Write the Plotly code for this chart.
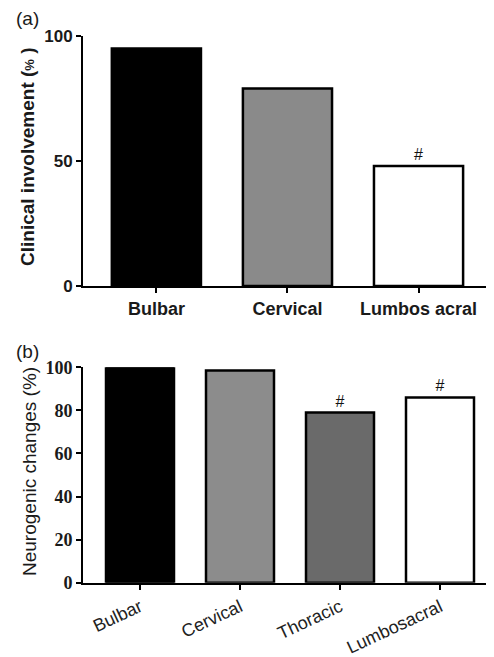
import plotly.graph_objects as go

# Panel (a) data
cats_a = ["Bulbar", "Cervical", "Lumbos acral"]
vals_a = [95, 79, 48]
marks_a = ["", "", "#"]
colors_a = ["#000000", "#8a8a8a", "#ffffff"]
yticks_a = [0, 50, 100]

# Panel (b) data
cats_b = ["Bulbar", "Cervical", "Thoracic", "Lumbosacral"]
vals_b = [100, 98.5, 79, 86]
marks_b = ["", "", "#", "#"]
colors_b = ["#000000", "#8c8c8c", "#6a6a6a", "#ffffff"]
yticks_b = [0, 20, 40, 60, 80, 100]

# the page body has an 8px margin, so the figure starts at (8, 8)
OFF = 8
W, H = 494 - OFF, 657 - OFF

fig = go.Figure()
fig.add_trace(go.Bar(
    x=cats_a, y=vals_a, text=marks_a, textposition="outside",
    textfont=dict(family="Liberation Sans", size=16, color="#111"),
    marker=dict(color=colors_a, line=dict(color="#000", width=2.5)),
    xaxis="x", yaxis="y", cliponaxis=False, showlegend=False,
))
fig.add_trace(go.Bar(
    x=cats_b, y=vals_b, text=marks_b, textposition="outside",
    textfont=dict(family="Liberation Sans", size=16, color="#111"),
    marker=dict(color=colors_b, line=dict(color="#000", width=2.5)),
    xaxis="x2", yaxis="y2", cliponaxis=False, showlegend=False,
))

def px_x(v):
    return (v - OFF) / W

def px_y(v):
    return (H - (v - OFF)) / H

axis_common = dict(showgrid=False, zeroline=False, showline=True, linecolor="#000",
                   linewidth=2, ticks="outside", tickcolor="#000", tickwidth=2, ticklen=5,
                   automargin=False, fixedrange=True)

fig.update_layout(
    width=W, height=H,
    margin=dict(l=0, r=0, t=0, b=0),
    paper_bgcolor="white", plot_bgcolor="white",
    bargap=0.32,
    xaxis=dict(domain=[px_x(83), px_x(488)], anchor="y", range=[-0.56, 2.53],
               tickfont=dict(family="Liberation Sans", size=18, color="#1a1a1a", weight="bold"),
               **axis_common),
    yaxis=dict(domain=[px_y(286), px_y(36)], anchor="x", range=[0, 100],
               tickvals=yticks_a,
               tickfont=dict(family="Liberation Sans", size=17, color="#1a1a1a", weight="bold"),
               **axis_common),
    xaxis2=dict(domain=[px_x(83), px_x(488)], anchor="y2", range=[-0.57, 3.48],
                tickangle=-25,
                tickfont=dict(family="Liberation Sans", size=18, color="#222"),
                **axis_common),
    yaxis2=dict(domain=[px_y(582.7), px_y(367.3)], anchor="x2", range=[0, 100],
                tickvals=yticks_b,
                tickfont=dict(family="Liberation Serif", size=18, color="#1a1a1a", weight="bold"),
                **axis_common),
    annotations=[
        dict(text="Clinical involvement (<span style='font-size:13px'>%</span> )",
             x=px_x(28), y=px_y(157), xref="paper", yref="paper", textangle=-90,
             showarrow=False, xanchor="center", yanchor="middle",
             font=dict(family="Liberation Sans", size=19, color="#1a1a1a", weight="bold")),
        dict(text="Neurogenic changes (%)",
             x=px_x(29.5), y=px_y(471.5), xref="paper", yref="paper", textangle=-90,
             showarrow=False, xanchor="center", yanchor="middle",
             font=dict(family="Liberation Sans", size=19, color="#1a1a1a")),
        dict(text="(a)", x=px_x(14), y=px_y(19), xref="paper", yref="paper",
             showarrow=False, xanchor="left", yanchor="middle",
             font=dict(family="Liberation Sans", size=19, color="#1a1a1a")),
        dict(text="(b)", x=px_x(14), y=px_y(351), xref="paper", yref="paper",
             showarrow=False, xanchor="left", yanchor="middle",
             font=dict(family="Liberation Sans", size=19, color="#1a1a1a")),
    ],
)

fig.write_html("out.html")
